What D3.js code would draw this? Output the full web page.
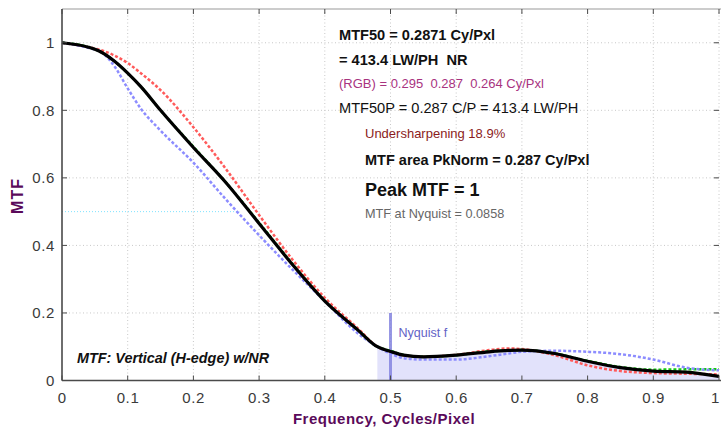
<!DOCTYPE html>
<html>
<head>
<meta charset="utf-8">
<script src="https://cdn.jsdelivr.net/npm/d3@7"></script>
<style>
  body { margin: 0; background: #fff; }
  svg { display: block; font-family: "Liberation Sans", Arial, sans-serif; }
  text { white-space: pre; }
</style>
</head>
<body>
<svg id="chart" width="721" height="432"></svg>
<script>
// spatial frequency, cycles/pixel
const freq = [0, 0.04, 0.06, 0.08, 0.1, 0.12, 0.15, 0.2, 0.25, 0.3, 0.35, 0.4, 0.45, 0.48, 0.5, 0.52, 0.55, 0.6, 0.65, 0.68, 0.7, 0.75, 0.8, 0.85, 0.9, 0.95, 1.0];
const lumMTF   = [1, 0.987, 0.972, 0.945, 0.91, 0.87, 0.8, 0.69, 0.585, 0.465, 0.345, 0.235, 0.15, 0.1, 0.086, 0.075, 0.07, 0.075, 0.085, 0.089, 0.09, 0.08, 0.057, 0.038, 0.028, 0.025, 0.012];
const redMTF   = [1, 0.987, 0.978, 0.962, 0.94, 0.91, 0.86, 0.75, 0.625, 0.49, 0.36, 0.245, 0.155, 0.1, 0.086, 0.075, 0.07, 0.076, 0.09, 0.095, 0.093, 0.075, 0.045, 0.028, 0.022, 0.02, 0.018];
const greenMTF = [1, 0.987, 0.972, 0.945, 0.91, 0.87, 0.8, 0.692, 0.585, 0.467, 0.347, 0.236, 0.15, 0.1, 0.088, 0.076, 0.07, 0.075, 0.086, 0.089, 0.09, 0.08, 0.058, 0.04, 0.032, 0.033, 0.033];
const blueMTF  = [1, 0.985, 0.972, 0.93, 0.865, 0.805, 0.74, 0.645, 0.535, 0.43, 0.33, 0.235, 0.14, 0.1, 0.08, 0.066, 0.062, 0.062, 0.072, 0.08, 0.085, 0.088, 0.085, 0.078, 0.062, 0.038, 0.03];

const xTicks = [0, 0.1, 0.2, 0.3, 0.4, 0.5, 0.6, 0.7, 0.8, 0.9, 1];
const yTicks = [0, 0.2, 0.4, 0.6, 0.8, 1];
const nyquist = 0.5;
const mtf50 = 0.27;
const fillFrom = 0.48;

const notes = [
  "MTF50 = 0.2871 Cy/Pxl",
  "= 413.4 LW/PH  NR",
  "(RGB) = 0.295  0.287  0.264 Cy/Pxl",
  "MTF50P = 0.287 C/P = 413.4 LW/PH",
  "Undersharpening 18.9%",
  "MTF area PkNorm = 0.287 Cy/Pxl",
  "Peak MTF = 1",
  "MTF at Nyquist = 0.0858"
];
const title = "MTF: Vertical (H-edge) w/NR";

const W = 721, H = 432;
const m = { top: 9, right: 2, bottom: 51.5, left: 62 };
const svg = d3.select("#chart");
const x = d3.scaleLinear().domain([0, 1]).range([m.left, W - m.right]);
const y = d3.scaleLinear().domain([0, 1.1]).range([H - m.bottom, m.top]);
const fmt = d3.format("~g");

// grid
const grid = svg.append("g").attr("stroke", "#c8c8c8").attr("stroke-dasharray", "1,2.5").attr("stroke-width", 1);
grid.selectAll("line.gx").data(xTicks.slice(1)).join("line").attr("class", "gx")
  .attr("x1", d => x(d)).attr("x2", d => x(d)).attr("y1", y(0)).attr("y2", y(1.1));
grid.selectAll("line.gy").data(yTicks.slice(1)).join("line").attr("class", "gy")
  .attr("y1", d => y(d)).attr("y2", d => y(d)).attr("x1", x(0)).attr("x2", x(1));

const pts = (vals) => freq.map((f, i) => [f, vals[i]]);
const line = d3.line().x(d => x(d[0])).y(d => y(d[1])).curve(d3.curveMonotoneX);

// lavender fill above Nyquist region
const lum = pts(lumMTF);
const fillPts = lum.filter(d => d[0] >= fillFrom);
svg.append("path")
  .attr("d", d3.area().x(d => x(d[0])).y0(y(0)).y1(d => y(d[1])).curve(d3.curveMonotoneX)(fillPts))
  .attr("fill", "#e2e2fb");

// MTF50 reference line
svg.append("line")
  .attr("x1", x(0)).attr("x2", x(mtf50)).attr("y1", y(0.5)).attr("y2", y(0.5))
  .attr("stroke", "#7fe3ff").attr("stroke-dasharray", "1,2").attr("stroke-width", 1);

// Nyquist marker
svg.append("line")
  .attr("x1", x(nyquist)).attr("x2", x(nyquist)).attr("y1", y(0)).attr("y2", y(0.2))
  .attr("stroke", "#8585e0").attr("stroke-width", 3).attr("opacity", 0.85);
svg.append("text").attr("x", x(nyquist) + 8).attr("y", 337)
  .attr("font-size", 12.5).attr("fill", "#6262c6").text("Nyquist f");

// channel curves
const channels = [
  { vals: redMTF, color: "#ff5a5a" },
  { vals: greenMTF, color: "#12c812" },
  { vals: blueMTF, color: "#8c8cff" }
];
svg.selectAll("path.ch").data(channels).join("path").attr("class", "ch")
  .attr("d", d => line(pts(d.vals)))
  .attr("fill", "none").attr("stroke", d => d.color)
  .attr("stroke-width", 2.5).attr("stroke-dasharray", "3,2");

svg.append("path").attr("d", line(lum))
  .attr("fill", "none").attr("stroke", "#000").attr("stroke-width", 3.2);

// axes (MATLAB style, ticks inward)
const axisColor = "#4a4a4a";
const ax = svg.append("g").attr("stroke", axisColor).attr("stroke-width", 1);
ax.append("line").attr("x1", x(0)).attr("x2", W).attr("y1", y(1.1)).attr("y2", y(1.1)).attr("stroke", "#999");
ax.append("line").attr("x1", x(0)).attr("x2", W).attr("y1", y(0)).attr("y2", y(0)).attr("stroke-width", 1.6);
ax.append("line").attr("x1", x(0)).attr("x2", x(0)).attr("y1", y(0)).attr("y2", y(1.1)).attr("stroke-width", 1.6);
ax.selectAll("line.tb").data(xTicks).join("line").attr("class", "tb")
  .attr("x1", d => x(d)).attr("x2", d => x(d)).attr("y1", y(0)).attr("y2", y(0) - 5);
ax.selectAll("line.tt").data(xTicks).join("line").attr("class", "tt")
  .attr("x1", d => x(d)).attr("x2", d => x(d)).attr("y1", y(1.1)).attr("y2", y(1.1) + 5);
ax.selectAll("line.tl").data(yTicks).join("line").attr("class", "tl")
  .attr("x1", x(0)).attr("x2", x(0) + 5).attr("y1", d => y(d)).attr("y2", d => y(d));
ax.selectAll("line.tr").data(yTicks).join("line").attr("class", "tr")
  .attr("x1", x(1)).attr("x2", x(1) - 5).attr("y1", d => y(d)).attr("y2", d => y(d));

const last = xTicks[xTicks.length - 1];
svg.selectAll("text.xt").data(xTicks).join("text").attr("class", "xt")
  .attr("x", d => d === last ? W - 1 : x(d) + 0.3).attr("y", 403)
  .attr("text-anchor", d => d === last ? "end" : "middle")
  .attr("font-size", 15).attr("letter-spacing", 0.6).attr("fill", "#3a3a3a").text(fmt);
svg.selectAll("text.yt").data(yTicks).join("text").attr("class", "yt")
  .attr("x", 55).attr("y", d => y(d) + 5.5).attr("text-anchor", "end")
  .attr("font-size", 15).attr("letter-spacing", 0.6).attr("fill", "#3a3a3a").text(fmt);

svg.append("text").attr("x", 384).attr("y", 424).attr("text-anchor", "middle")
  .attr("font-size", 15).attr("letter-spacing", 0.5).attr("font-weight", "bold").attr("fill", "#5a0a5a")
  .text("Frequency, Cycles/Pixel");
svg.append("text").attr("transform", "translate(23,196) rotate(-90)").attr("text-anchor", "middle")
  .attr("font-size", 16).attr("letter-spacing", 1).attr("font-weight", "bold").attr("fill", "#5a0a5a").text("MTF");

// annotations
const noteStyle = [
  { x: 339, y: 40, size: 14.6, weight: "bold", color: "#111" },
  { x: 339, y: 65, size: 14.6, weight: "bold", color: "#111" },
  { x: 339, y: 88, size: 13, weight: "normal", color: "#a8337f" },
  { x: 339, y: 113, size: 14.6, weight: "normal", color: "#111" },
  { x: 365, y: 138, size: 13, weight: "normal", color: "#8b1c1c" },
  { x: 365, y: 165, size: 14.5, weight: "bold", color: "#111" },
  { x: 365, y: 196, size: 18, weight: "bold", color: "#111" },
  { x: 365, y: 218, size: 12.7, weight: "normal", color: "#666" }
];
svg.selectAll("text.note").data(notes).join("text").attr("class", "note")
  .attr("x", (d, i) => noteStyle[i].x).attr("y", (d, i) => noteStyle[i].y)
  .attr("font-size", (d, i) => noteStyle[i].size).attr("font-weight", (d, i) => noteStyle[i].weight)
  .attr("fill", (d, i) => noteStyle[i].color).text(d => d);

svg.append("text").attr("x", 77).attr("y", 363)
  .attr("font-size", 14.4).attr("font-weight", "bold").attr("font-style", "italic")
  .attr("fill", "#111").text(title);
</script>
</body>
</html>
